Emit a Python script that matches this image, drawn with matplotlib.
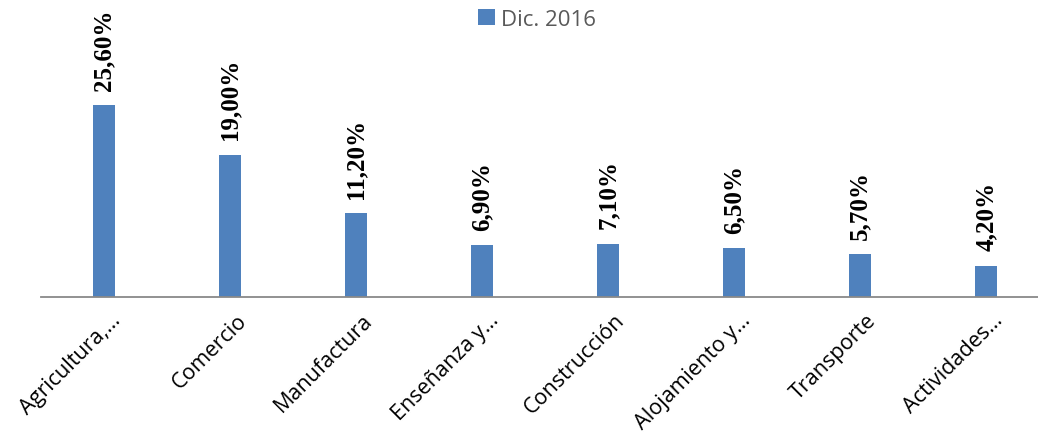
import matplotlib
matplotlib.use('Agg')

import matplotlib.pyplot as plt
import matplotlib.transforms as mtransforms
from matplotlib.patches import Patch

categories = ['Agricultura,…', 'Comercio', 'Manufactura', 'Enseñanza y…',
              'Construcción', 'Alojamiento y…', 'Transporte', 'Actividades…']
values = [25.6, 19.0, 11.2, 6.9, 7.1, 6.5, 5.7, 4.2]
labels = ['25,60%', '19,00%', '11,20%', '6,90%', '7,10%', '6,50%', '5,70%', '4,20%']
series_name = 'Dic. 2016'

bar_color = '#4F81BD'

W, H = 1038, 439
fig = plt.figure(figsize=(W / 100, H / 100), dpi=100)
# axes: bar 0 centred at x=104px, spacing 126px, baseline at y=298px
ax = fig.add_axes([41 / W, (H - 298) / H, 1008 / W, 225 / H])

x = range(len(categories))
ax.bar(x, values, width=0.18, color=bar_color)
ax.set_xlim(-0.5, len(categories) - 0.5)
ax.set_ylim(0, 30)

for xi, v, lab in zip(x, values, labels):
    ax.annotate(lab, (xi, v), xytext=(0, 11), textcoords='offset points',
                rotation=90, ha='center', va='bottom', fontsize=18,
                fontweight='bold', family='Liberation Serif', color='black')

# axes styling
for side in ['top', 'right', 'left']:
    ax.spines[side].set_visible(False)
ax.spines['bottom'].set_color('#898989')
ax.spines['bottom'].set_linewidth(1.3)
ax.set_yticks([])
ax.set_xticks(list(x))
ax.set_xticklabels(categories, rotation=45, ha='right', va='top',
                   rotation_mode='anchor', fontsize=15.5, family='Open Sans')
ax.tick_params(axis='x', length=0, pad=9)
shift = mtransforms.ScaledTranslation(6 / 100, 0, fig.dpi_scale_trans)
for t in ax.get_xticklabels():
    t.set_transform(t.get_transform() + shift)

handles = [Patch(facecolor=bar_color, label=series_name)]
fig.legend(handles=handles, loc='center', bbox_to_anchor=(537 / W, 1 - 20 / H),
           frameon=False, handlelength=0.75, handleheight=0.75,
           handletextpad=0.25, labelcolor='#595959',
           prop={'family': 'Open Sans', 'size': 16})

fig.savefig('out.png', dpi=100, facecolor='white')
